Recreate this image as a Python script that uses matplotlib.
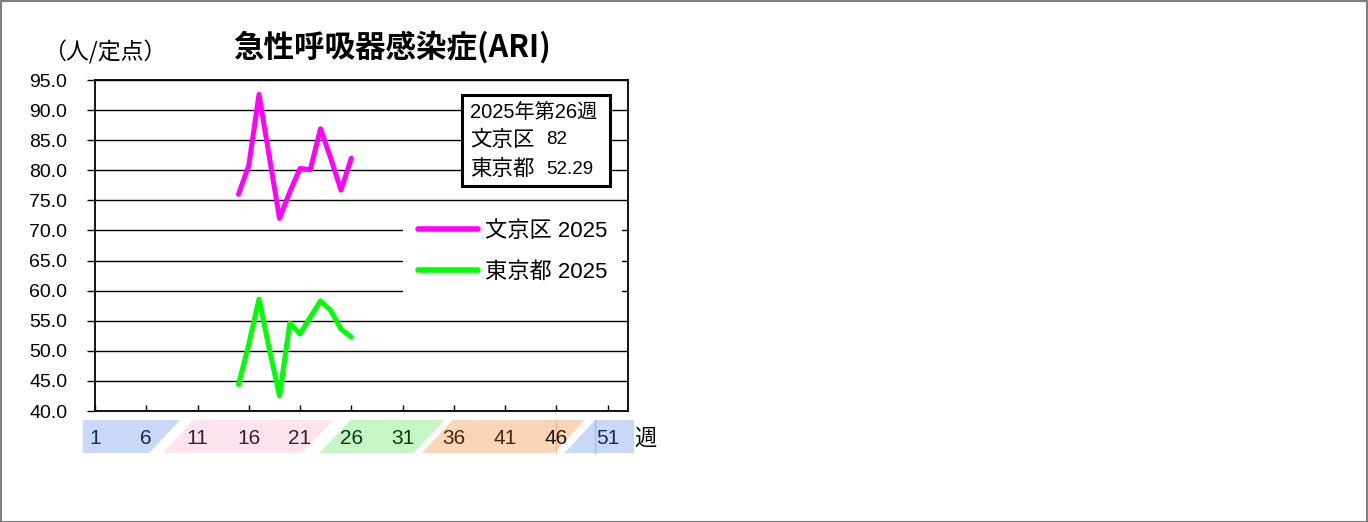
import matplotlib
matplotlib.use("Agg")
import matplotlib.pyplot as plt
from matplotlib.patches import Rectangle, Polygon
from matplotlib.lines import Line2D
import matplotlib.transforms as mtransforms

# ---------------- data ----------------
weeks = [15, 16, 17, 18, 19, 20, 21, 22, 23, 24, 25, 26]
bunkyo_2025 = [76.0, 80.8, 92.6, 82.3, 72.0, 76.4, 80.3, 80.1, 86.9, 82.0, 76.7, 82.0]
tokyo_2025 = [44.4, 51.1, 58.6, 50.3, 42.5, 54.6, 52.8, 55.6, 58.3, 56.7, 53.6, 52.29]
series_labels = ["文京区 2025", "東京都 2025"]
week_ticks = [1, 6, 11, 16, 21, 26, 31, 36, 41, 46, 51]
y_ticks = [40, 45, 50, 55, 60, 65, 70, 75, 80, 85, 90, 95]
title = "急性呼吸器感染症(ARI)"
unit_label = "（人/定点）"
week_unit = "週"
box_header = "2025年第26週"
box_rows = [("文京区", "82"), ("東京都", "52.29")]

# ---------------- style ----------------
JP = ["Noto Sans CJK JP", "DejaVu Sans"]
MIX = ["Liberation Sans", "Noto Sans CJK JP", "DejaVu Sans"]
plt.rcParams["font.family"] = MIX

W, H = 1368, 522
fig = plt.figure(figsize=(W / 100, H / 100), dpi=100)
fig.patch.set_facecolor("white")

ax_l, ax_r, ax_t, ax_b = 95, 628, 80, 411
ax = fig.add_axes([ax_l / W, 1 - ax_b / H, (ax_r - ax_l) / W, (ax_b - ax_t) / H])

ax.plot(weeks, bunkyo_2025, color="#ff00ff", lw=3.6, solid_joinstyle="round",
        solid_capstyle="round", label=series_labels[0], zorder=3)
ax.plot(weeks, tokyo_2025, color="#00ff00", lw=3.6, solid_joinstyle="round",
        solid_capstyle="round", label=series_labels[1], zorder=3)

ax.set_xlim(1, 53)
ax.set_ylim(40, 95)
ax.set_yticks(y_ticks)
ax.set_yticklabels([f"{v:.1f}" for v in y_ticks], fontsize=14, family=MIX)
ax.set_xticks(week_ticks)
ax.set_xticklabels([])
ax.tick_params(axis="y", direction="out", length=6, width=1, pad=14, colors="black")
ax.tick_params(axis="x", direction="in", length=4.5, width=1)
ax.yaxis.grid(True, color="black", lw=1)
ax.set_axisbelow(True)
for s in ax.spines.values():
    s.set_color("black")
    s.set_linewidth(1.3)

# legend
leg = ax.legend(loc="center left", bbox_to_anchor=(0.578, 0.481), frameon=True,
                handlelength=2.7, handletextpad=0.3, labelspacing=0.9,
                borderpad=0.68, borderaxespad=0, prop={"family": MIX, "size": 16})
leg.get_frame().set_facecolor("white")
leg.get_frame().set_edgecolor("none")
leg.get_frame().set_alpha(1)
for ln in leg.get_lines():
    ln.set_linewidth(4)
leg.set_zorder(5)

# info box
def ax_xy(px, py):
    return (px - ax_l) / (ax_r - ax_l), (ax_b - py) / (ax_b - ax_t)

x0, y1 = ax_xy(462, 95)
x1, y0 = ax_xy(610, 186)
ax.add_patch(Rectangle((x0, y0), x1 - x0, y1 - y0, transform=ax.transAxes,
                       facecolor="white", edgecolor="black", lw=2.2, zorder=6))
tx, _ = ax_xy(470, 0)
vx, _ = ax_xy(546, 0)
_, hy = ax_xy(0, 112)
ax.text(tx, hy, box_header, transform=ax.transAxes, fontsize=14.5, va="center",
        ha="left", family=MIX, zorder=7)
for (lab, val), py in zip(box_rows, [140, 169]):
    _, ry = ax_xy(0, py)
    ax.text(tx, ry, lab, transform=ax.transAxes, fontsize=15.5, va="center",
            ha="left", family=JP, zorder=7)
    ax.text(vx, ry, val, transform=ax.transAxes, fontsize=13.5, va="center",
            ha="left", family=MIX, zorder=7)

# title and unit
tx_t, ty_t = ax_xy(392, 47)
ax.text(tx_t, ty_t, title, transform=ax.transAxes, fontsize=22, fontweight="bold",
        ha="center", va="center", family=JP)
ux, uy = ax_xy(105, 52)
ax.text(ux, uy, unit_label, transform=ax.transAxes, fontsize=16.5,
        ha="center", va="center", family=JP)

# colored week band below axis (x in data units, y in axes units)
trans = mtransforms.blended_transform_factory(ax.transData, ax.transAxes)
yb_top, yb_bot = ax_xy(0, 420)[1], ax_xy(0, 453)[1]
bands = [
    # (bottom-left, top-left, top-right, bottom-right, color)
    (-0.2, -0.2, 9.3, 6.3, "#c9d8f6"),
    (7.6, 10.6, 24.2, 21.2, "#fde3ee"),
    (22.9, 25.9, 35.1, 32.1, "#c6f6c6"),
    (32.9, 35.9, 48.8, 45.8, "#fbd5b8"),
    (46.8, 49.8, 53.6, 53.6, "#c9d8f6"),
]
for bl, tl, tr, br, col in bands:
    poly = Polygon([(bl, yb_bot), (tl, yb_top), (tr, yb_top), (br, yb_bot)],
                   closed=True, transform=trans, facecolor=col, edgecolor="none",
                   clip_on=False, zorder=1)
    ax.add_patch(poly)
ax.add_line(Line2D([46.0, 46.0], [yb_bot, yb_top], transform=trans, color="#f0b890",
                   lw=1, clip_on=False))
ax.add_line(Line2D([49.8, 49.8], [yb_bot, yb_top], transform=trans, color="#a9bce8",
                   lw=1, clip_on=False))

label_colors = ["#1c2755", "#1c2755", "#3a1f2c", "#3a1f2c", "#3a1f2c",
                "#0d3a0d", "#0d3a0d", "#4a2810", "#4a2810", "#1a1a1a", "#1c2755"]
ymid = ax_xy(0, 438)[1]
for wk, c in zip(week_ticks, label_colors):
    ax.text(wk, ymid, str(wk), transform=trans, fontsize=15, color=c,
            ha="center", va="center", family=MIX, clip_on=False)
ax.text(54.7, ymid, week_unit, transform=trans, fontsize=16, color="black",
        ha="center", va="center", family=JP, clip_on=False)

# outer border
fig.patches.append(Rectangle((0.5 / W, 0.5 / H), 1 - 1.5 / W, 1 - 1.5 / H,
                             transform=fig.transFigure, fill=False,
                             edgecolor="#7f7f7f", lw=1.5))

fig.savefig("out.png", dpi=100, facecolor="white")
